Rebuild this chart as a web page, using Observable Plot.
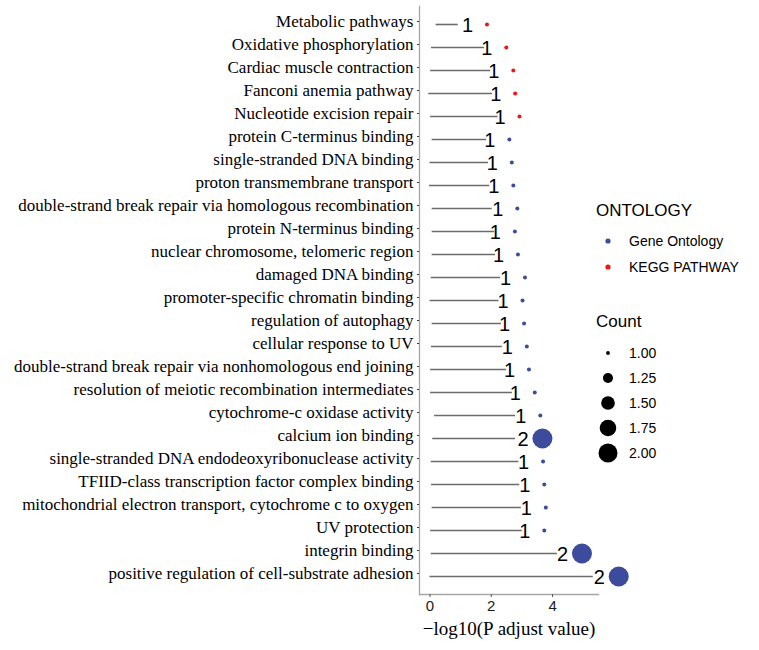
<!DOCTYPE html>
<html>
<head>
<meta charset="utf-8">
<script src="https://cdn.jsdelivr.net/npm/d3@7"></script>
<script src="https://cdn.jsdelivr.net/npm/@observablehq/plot@0.6"></script>
<style>
  html, body { margin: 0; padding: 0; background: #fff; }
  #wrap { position: relative; width: 759px; height: 650px; }
  #wrap svg { position: absolute; left: 0; top: 0; }
  g[aria-label="x-axis label"] text { font-family: "Liberation Serif", "Times New Roman", serif; font-size: 19px; fill: #000; }
  .legend { position: absolute; left: 0; top: 0; font-family: "Liberation Sans", Arial, sans-serif; color: #000; }
  .legend .title { position: absolute; font-size: 17px; white-space: nowrap; transform: translateY(-50%); }
  .legend .item { position: absolute; font-size: 14px; white-space: nowrap; transform: translateY(-50%); }
  .legend svg { position: absolute; overflow: visible; }
</style>
</head>
<body>
<div id="wrap"></div>
<script>
// ---- data (top to bottom) ----
const terms = [
  "Metabolic pathways",
  "Oxidative phosphorylation",
  "Cardiac muscle contraction",
  "Fanconi anemia pathway",
  "Nucleotide excision repair",
  "protein C-terminus binding",
  "single-stranded DNA binding",
  "proton transmembrane transport",
  "double-strand break repair via homologous recombination",
  "protein N-terminus binding",
  "nuclear chromosome, telomeric region",
  "damaged DNA binding",
  "promoter-specific chromatin binding",
  "regulation of autophagy",
  "cellular response to UV",
  "double-strand break repair via nonhomologous end joining",
  "resolution of meiotic recombination intermediates",
  "cytochrome-c oxidase activity",
  "calcium ion binding",
  "single-stranded DNA endodeoxyribonuclease activity",
  "TFIID-class transcription factor complex binding",
  "mitochondrial electron transport, cytochrome c to oxygen",
  "UV protection",
  "integrin binding",
  "positive regulation of cell-substrate adhesion"
];
const logP = [1.86, 2.49, 2.72, 2.78, 2.92, 2.59, 2.67, 2.72, 2.85, 2.77, 2.87, 3.10, 3.02, 3.07, 3.16, 3.23, 3.42, 3.60, 3.67, 3.69, 3.73, 3.78, 3.73, 4.96, 6.16];
const counts = [1, 1, 1, 1, 1, 1, 1, 1, 1, 1, 1, 1, 1, 1, 1, 1, 1, 1, 2, 1, 1, 1, 1, 2, 2];
const ontology = ["KEGG PATHWAY", "KEGG PATHWAY", "KEGG PATHWAY", "KEGG PATHWAY", "KEGG PATHWAY",
  "Gene Ontology", "Gene Ontology", "Gene Ontology", "Gene Ontology", "Gene Ontology", "Gene Ontology",
  "Gene Ontology", "Gene Ontology", "Gene Ontology", "Gene Ontology", "Gene Ontology", "Gene Ontology",
  "Gene Ontology", "Gene Ontology", "Gene Ontology", "Gene Ontology", "Gene Ontology", "Gene Ontology",
  "Gene Ontology", "Gene Ontology"];
const segStart = [0.20, 0.05, 0.02, -0.04, 0.02, 0.07, 0.00, -0.02, 0.07, 0.07, 0.07, 0.04, 0.00, 0.07, 0.05, 0.02, 0.02, 0.15, 0.09, 0.04, 0.05, 0.07, 0.02, 0.04, 0.00];
const segEnd = [0.92, 1.78, 1.98, 2.04, 2.22, 1.85, 1.91, 1.95, 2.03, 2.11, 2.14, 2.30, 2.25, 2.33, 2.36, 2.50, 2.69, 2.79, 2.79, 2.90, 2.93, 2.98, 3.01, 4.16, 5.33];
const xTicks = [0, 2, 4];
const ontologyLevels = ["Gene Ontology", "KEGG PATHWAY"];
const ontologyColors = ["#3C4B9B", "#F01414"];
const countLegend = [1.00, 1.25, 1.50, 1.75, 2.00];

const rows = terms.map((t, i) => ({term: t, p: logP[i], count: counts[i], ont: ontology[i], s: segStart[i], e: segEnd[i]}));

// ggplot-like area scaling for size: r^2 linear in count
const rOf = c => Math.sqrt(4 + 96 * (c - 1));

const SANS = '"Liberation Sans", Arial, sans-serif';
const SERIF = '"Liberation Serif", "Times New Roman", serif';

const chart = Plot.plot({
  width: 759,
  height: 650,
  marginLeft: 419,
  marginRight: 161,
  marginTop: 6,
  marginBottom: 56,
  style: {background: "transparent", fontFamily: SANS, overflow: "visible"},
  x: {domain: [-0.343, 5.5]},
  y: {type: "point", domain: terms, padding: 0.6},
  color: {domain: ontologyLevels, range: ontologyColors},
  r: {type: "identity"},
  marks: [
    Plot.frame({anchor: "left", stroke: "#a6a6a6", strokeWidth: 1.3}),
    Plot.frame({anchor: "bottom", stroke: "#a6a6a6", strokeWidth: 1.3}),
    Plot.axisY({tickSize: 2, tickPadding: 4, fontSize: 17, fontFamily: SERIF, color: "#000", stroke: "#333", label: null, dy: -3}),
    Plot.axisX({ticks: xTicks, tickFormat: d3.format("d"), tickSize: 3, tickPadding: 3, fontSize: 15, fontFamily: SANS, color: "#1a1a1a", stroke: "#555",
      label: "\u2212log10(P adjust value)", labelAnchor: "center", labelArrow: "none", labelOffset: 40}),
    Plot.ruleY(rows, {y: "term", x1: "s", x2: "e", stroke: "#6b6b6b", strokeWidth: 1.6}),
    Plot.text(rows, {x: "p", y: "term", text: d => String(d.count), dx: -25, dy: 1, textAnchor: "start",
      fontSize: 20, fontFamily: SANS, fill: "#000"}),
    Plot.dot(rows, {x: "p", y: "term", r: d => rOf(d.count), fill: "ont", stroke: "none"})
  ]
});

const wrap = document.getElementById("wrap");
wrap.appendChild(chart);

// ---- legend ----
const leg = document.createElement("div");
leg.className = "legend";
wrap.appendChild(leg);
function addTitle(txt, x, y) {
  const d = document.createElement("div");
  d.className = "title"; d.textContent = txt;
  d.style.left = x + "px"; d.style.top = y + "px";
  leg.appendChild(d);
}
function addItem(txt, x, y, r, color) {
  const ns = "http://www.w3.org/2000/svg";
  const s = document.createElementNS(ns, "svg");
  s.setAttribute("width", 1); s.setAttribute("height", 1);
  s.style.left = "608px"; s.style.top = y + "px";
  const c = document.createElementNS(ns, "circle");
  c.setAttribute("cx", 0); c.setAttribute("cy", 0); c.setAttribute("r", r); c.setAttribute("fill", color);
  s.appendChild(c); leg.appendChild(s);
  const d = document.createElement("div");
  d.className = "item"; d.textContent = txt;
  d.style.left = x + "px"; d.style.top = y + "px";
  leg.appendChild(d);
}
addTitle("ONTOLOGY", 596, 211);
ontologyLevels.forEach((o, i) => addItem(o, 629, 241 + i * 25.5, 2.6, ontologyColors[i]));
addTitle("Count", 596, 322);
countLegend.forEach((c, i) => addItem(c.toFixed(2), 629, 353 + i * 25, rOf(c) * 0.95, "#000"));
</script>
</body>
</html>
